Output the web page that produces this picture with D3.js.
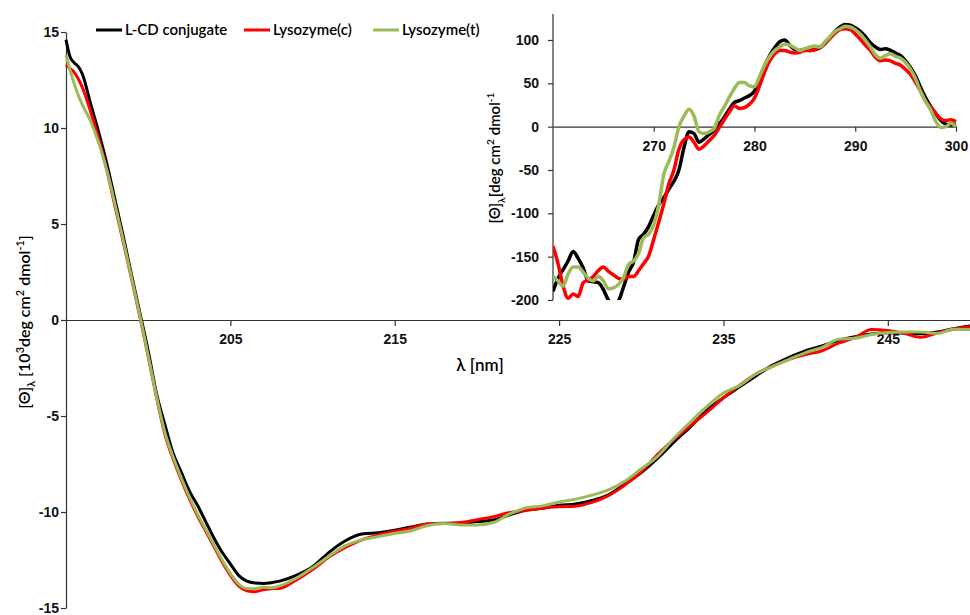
<!DOCTYPE html>
<html>
<head>
<meta charset="utf-8">
<script src="https://cdnjs.cloudflare.com/ajax/libs/d3/7.8.5/d3.min.js"></script>
<style>
  body { margin: 0; background: #fff; }
  svg { display: block; font-family: Lato, "Open Sans", sans-serif; }
  .axis path, .axis line { stroke: #333; stroke-width: 1.2; }
  .axis text { font-size: 14px; fill: #111; font-weight: 600; }
</style>
</head>
<body>
<svg id="chart" width="970" height="615"></svg>
<script>
// series names and colours
const seriesNames = ["L-CD conjugate", "Lysozyme(c)", "Lysozyme(t)"];
const seriesColors = ["#000000", "#ff0000", "#9bbb59"];

// main far-UV spectrum (wavelength in nm, values in 10^3 deg cm2 dmol-1)
const mainWl = [195, 195.25, 195.5, 195.75, 196, 196.5, 197, 197.5, 198, 198.5, 199, 199.5, 200, 200.5,
  201, 201.5, 202, 202.5, 203, 203.5, 204, 204.5, 205, 205.5, 206, 206.5, 207, 207.5, 208, 209, 210,
  211, 212, 213, 214, 215, 216, 217, 218, 219, 220, 221, 222, 223, 224, 225, 226, 227, 228, 229, 230,
  231, 232, 233, 234, 235, 236, 237, 238, 239, 240, 241, 242, 243, 244, 245, 246, 247, 248, 249, 250];
const lcdMain = [14.6, 13.7, 13.4, 13.2, 12.8, 11.25, 9.75, 8.1, 6.2, 4.3, 2.3, 0.35, -1.6, -3.8,
  -5.4, -6.9, -7.9, -8.9, -9.65, -10.5, -11.35, -12.1, -12.7, -13.3, -13.6, -13.7, -13.72, -13.68, -13.6, -13.3, -12.85,
  -12.1, -11.5, -11.15, -11.08, -10.95, -10.78, -10.62, -10.58, -10.58, -10.5, -10.42, -10.15, -9.9, -9.8, -9.65, -9.58, -9.4, -9.1, -8.55, -7.95,
  -7.2, -6.35, -5.55, -4.7, -4.05, -3.47, -2.9, -2.35, -1.95, -1.6, -1.35, -1.06, -0.87, -0.73, -0.67, -0.68, -0.72, -0.63, -0.45, -0.31];
const lysCMain = [13.3, 13.1, 12.9, 12.55, 12.1, 10.85, 9.4, 7.75, 5.85, 4.0, 2.1, 0.15, -1.9, -4.0,
  -5.9, -7.2, -8.3, -9.3, -10.2, -11.0, -11.8, -12.6, -13.3, -13.85, -14.1, -14.15, -14.05, -14.0, -13.98, -13.55, -13.0,
  -12.35, -11.85, -11.45, -11.2, -11.0, -10.85, -10.62, -10.6, -10.55, -10.4, -10.25, -10.03, -9.92, -9.8, -9.73, -9.7, -9.5, -9.15, -8.6, -7.9,
  -7.0, -6.2, -5.5, -4.8, -4.05, -3.39, -2.8, -2.4, -2.05, -1.8, -1.6, -1.2, -0.92, -0.5, -0.55, -0.7, -0.9, -0.68, -0.48, -0.35];
const lysTMain = [13.8, 13.0, 12.3, 11.7, 11.2, 10.35, 9.2, 7.75, 5.95, 4.1, 2.15, 0.2, -1.85, -3.95,
  -5.8, -7.1, -8.2, -9.2, -10.1, -10.9, -11.7, -12.5, -13.2, -13.75, -13.98, -14.0, -13.92, -13.95, -13.85, -13.45, -12.9,
  -12.3, -11.75, -11.45, -11.28, -11.12, -10.98, -10.7, -10.6, -10.68, -10.68, -10.55, -10.1, -9.78, -9.68, -9.48, -9.33, -9.12, -8.85, -8.4, -7.75,
  -7.1, -6.15, -5.3, -4.5, -3.8, -3.4, -2.8, -2.42, -2.05, -1.7, -1.42, -1.0, -0.95, -0.75, -0.65, -0.62, -0.62, -0.7, -0.48, -0.5];

// inset near-UV spectrum (deg cm2 dmol-1)
const insetWl = [260, 260.5, 261, 261.5, 262, 262.5, 263, 263.5, 264, 264.5, 265, 265.5, 266, 266.5, 267, 267.5,
  268, 268.5, 269, 269.5, 270, 270.5, 271, 271.5, 272, 272.5, 273, 273.5, 274, 274.5, 275, 275.5,
  276, 276.5, 277, 277.5, 278, 278.5, 279, 279.5, 280, 280.5, 281, 281.5, 282, 282.5, 283, 283.5,
  284, 284.5, 285, 285.5, 286, 286.5, 287, 287.5, 288, 288.5, 289, 289.5, 290, 290.5, 291, 291.5,
  292, 292.5, 293, 293.5, 294, 294.5, 295, 295.5, 296, 296.5, 297, 297.5, 298, 298.5, 299, 299.5, 300];
const lcdInset = [-190, -175, -165, -155, -144, -152, -163, -178, -179, -180, -188, -200, -205, -201, -185, -168,
  -156, -130, -124, -115, -102, -90, -82, -72, -63, -50, -24, -6, -8, -18, -14, -9,
  -4, 3, 11, 20, 28, 30, 33, 36, 41, 56, 70, 82, 91, 98, 100, 94,
  89, 88, 89, 88, 89, 91, 96, 103, 110, 115, 118, 117, 114, 110, 104, 97,
  92, 89, 90, 88, 85, 82, 76, 68, 58, 45, 33, 23, 15, 7, 3, 2, 3];
const lysCInset = [-138, -158, -184, -198, -193, -196, -180, -177, -173, -166, -162, -167, -171, -175, -176, -173,
  -173, -166, -158, -149, -130, -110, -89, -66, -50, -26, -15, -12, -18, -26, -22, -16,
  -10, -1, 8, 17, 24, 21, 22, 26, 33, 47, 63, 76, 84, 88, 88, 86,
  85, 86, 88, 88, 89, 92, 96, 102, 108, 112, 113, 112, 107, 101, 94, 88,
  80, 76, 77, 76, 73, 71, 66, 60, 51, 41, 29, 22, 15, 9, 7, 8, 6];
const lysTInset = [-173, -178, -184, -170, -162, -162, -168, -175, -178, -173, -178, -187, -186, -182, -174, -159,
  -155, -146, -128, -124, -113, -90, -55, -40, -24, 0, 12, 20, 12, -6, -8, -6,
  -2, 13, 23, 34, 44, 51, 51, 47, 46, 58, 71, 81, 88, 92, 95, 94,
  91, 88, 90, 92, 93, 92, 98, 104, 110, 113, 116, 115, 112, 107, 100, 92,
  83, 79, 82, 84, 81, 79, 74, 66, 55, 40, 29, 19, 6, -1, 0, 4, 0];

const mainXTicks = [205, 215, 225, 235, 245];
const mainYTicks = [-15, -10, -5, 0, 5, 10, 15];
const insetXTicks = [270, 280, 290, 300];
const insetYTicks = [-200, -150, -100, -50, 0, 50, 100];

const svg = d3.select("#chart");
const plain = d => String(d);   // keep a plain hyphen for negatives

// writes text with sub/superscripts from [text, kind] pieces
function richText(sel, parts, size) {
    parts.forEach(([t, kind]) => {
        const ts = sel.append("tspan").text(t);
        if (kind === "sub") ts.attr("font-size", size * 0.68).attr("dy", size * 0.3);
        else if (kind === "sup") ts.attr("font-size", size * 0.68).attr("dy", -size * 0.4);
        else if (kind === "back-sub") ts.attr("dy", -size * 0.3);
        else if (kind === "back-sup") ts.attr("dy", size * 0.4);
    });
}

// ---------- main chart ----------
const x = d3.scaleLinear().domain([195, 250]).range([66, 970]);
const y = d3.scaleLinear().domain([-15, 15]).range([608, 32]);

svg.append("g")
    .attr("class", "axis")
    .attr("transform", "translate(0," + y(0) + ")")
    .call(d3.axisBottom(x).tickValues(mainXTicks).tickSize(6).tickSizeOuter(0).tickPadding(8).tickFormat(plain));

svg.append("g")
    .attr("class", "axis")
    .attr("transform", "translate(" + x(195) + ",0)")
    .call(d3.axisLeft(y).tickValues(mainYTicks).tickSize(5).tickSizeOuter(0).tickPadding(2).tickFormat(plain));

const mainLine = d3.line()
    .x(d => x(d[0]))
    .y(d => y(d[1]))
    .curve(d3.curveMonotoneX);

[lcdMain, lysCMain, lysTMain].forEach((vals, i) => {
    svg.append("path")
        .datum(mainWl.map((w, j) => [w, vals[j]]))
        .attr("fill", "none")
        .attr("stroke", seriesColors[i])
        .attr("stroke-width", 3)
        .attr("stroke-linejoin", "round")
        .attr("d", mainLine);
});

svg.append("text")
    .attr("x", 480).attr("y", 371)
    .attr("text-anchor", "middle")
    .attr("font-size", 17).attr("font-weight", 600)
    .text("λ [nm]");

const yLab = svg.append("text")
    .attr("transform", "translate(30,322) rotate(-90)")
    .attr("text-anchor", "middle")
    .attr("font-size", 16).attr("font-weight", 600);
richText(yLab, [["[Θ]"], ["λ", "sub"], [" [10", "back-sub"], ["3", "sup"], ["deg cm", "back-sup"], ["2", "sup"], [" dmol", "back-sup"], ["-1", "sup"], ["]", "back-sup"]], 16);

// ---------- legend ----------
const legendX = [96, 244, 373];
seriesNames.forEach((name, i) => {
    svg.append("line")
        .attr("x1", legendX[i]).attr("x2", legendX[i] + 26)
        .attr("y1", 30).attr("y2", 30)
        .attr("stroke", seriesColors[i]).attr("stroke-width", 3);
    svg.append("text")
        .attr("x", legendX[i] + 29).attr("y", 35)
        .attr("font-size", 15).attr("font-weight", 600)
        .text(name);
});

// ---------- inset ----------
const ix = d3.scaleLinear().domain([260, 300]).range([553, 956]);
const iy = d3.scaleLinear().domain([-200, 130]).range([300, 14]);

svg.append("rect")
    .attr("x", 553).attr("y", 14).attr("width", 403).attr("height", 286)
    .attr("fill", "#fff");

svg.append("clipPath").attr("id", "insetClip")
    .append("rect").attr("x", 553).attr("y", 10).attr("width", 410).attr("height", 290);

svg.append("g")
    .attr("class", "axis")
    .attr("transform", "translate(0," + iy(0) + ")")
    .call(d3.axisBottom(ix).tickValues(insetXTicks).tickSize(5).tickSizeOuter(0).tickPadding(9).tickFormat(plain));

svg.append("g")
    .attr("class", "axis")
    .attr("transform", "translate(" + ix(260) + ",0)")
    .call(d3.axisLeft(iy).tickValues(insetYTicks).tickSize(5).tickSizeOuter(0).tickPadding(9).tickFormat(plain))
    .call(g => g.select(".domain").attr("d", "M0," + iy(130) + "V" + iy(-200)));

d3.selectAll(".axis text").attr("font-size", 15);

const insetLine = d3.line()
    .x(d => ix(d[0]))
    .y(d => iy(d[1]))
    .curve(d3.curveMonotoneX);

const insetG = svg.append("g").attr("clip-path", "url(#insetClip)");
[lcdInset, lysCInset, lysTInset].forEach((vals, i) => {
    insetG.append("path")
        .datum(insetWl.map((w, j) => [w, vals[j]]))
        .attr("fill", "none")
        .attr("stroke", seriesColors[i])
        .attr("stroke-width", 3.5)
        .attr("stroke-linejoin", "round")
        .attr("d", insetLine);
});

const iyLab = svg.append("text")
    .attr("transform", "translate(500,158) rotate(-90)")
    .attr("text-anchor", "middle")
    .attr("font-size", 15).attr("font-weight", 600);
richText(iyLab, [["[Θ]"], ["λ", "sub"], ["[deg cm", "back-sub"], ["2", "sup"], [" dmol", "back-sup"], ["-1", "sup"]], 15);
</script>
</body>
</html>
